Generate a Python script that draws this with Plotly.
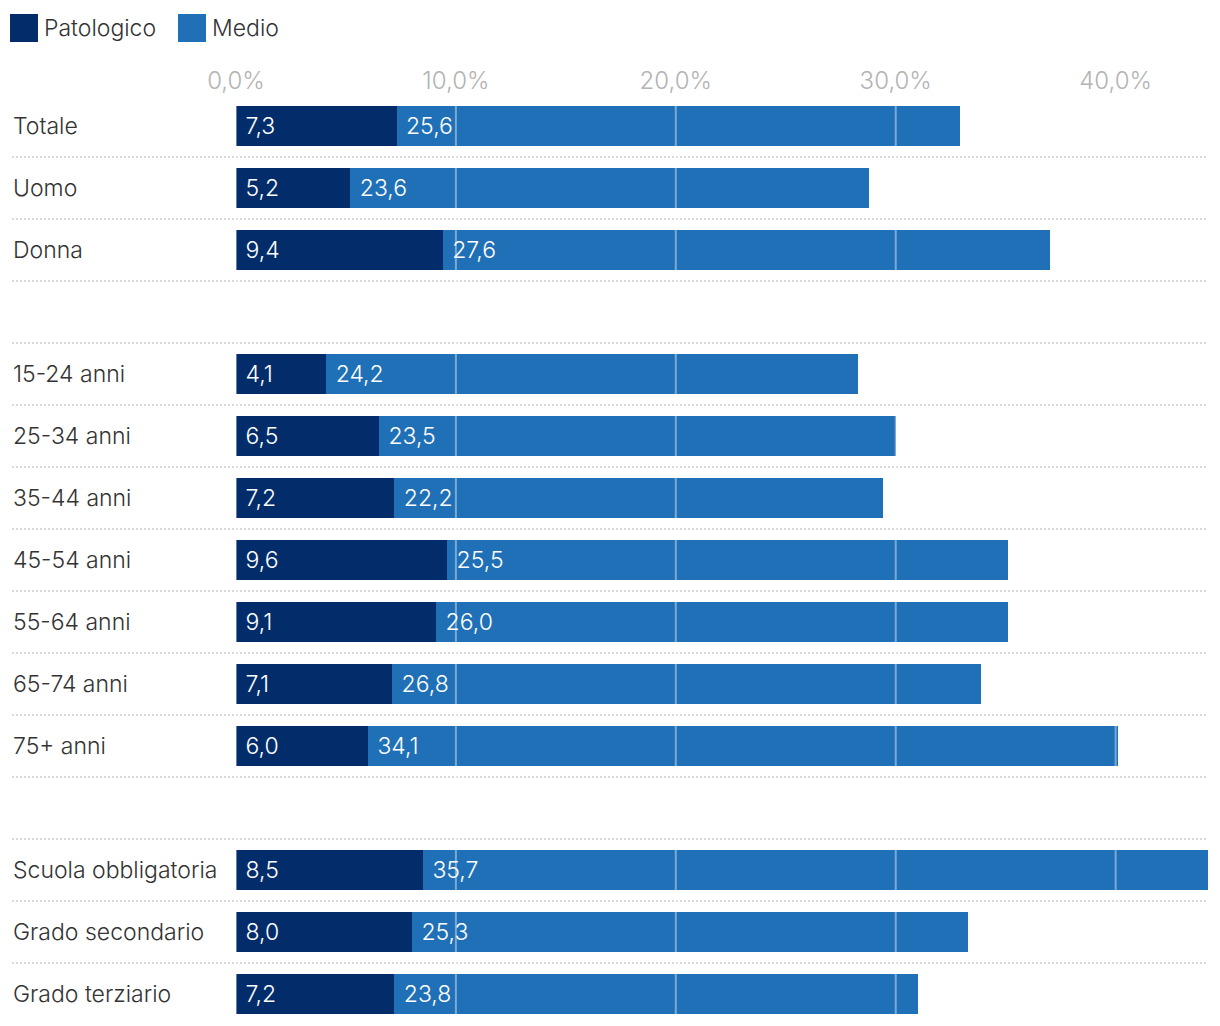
import plotly.graph_objects as go

categories = ["Totale", "Uomo", "Donna", " ",
              "15-24 anni", "25-34 anni", "35-44 anni", "45-54 anni",
              "55-64 anni", "65-74 anni", "75+ anni", "  ",
              "Scuola obbligatoria", "Grado secondario", "Grado terziario"]
patologico = [7.3, 5.2, 9.4, None, 4.1, 6.5, 7.2, 9.6, 9.1, 7.1, 6.0, None, 8.5, 8.0, 7.2]
medio = [25.6, 23.6, 27.6, None, 24.2, 23.5, 22.2, 25.5, 26.0, 26.8, 34.1, None, 35.7, 25.3, 23.8]
tick_vals = [0, 10, 20, 30, 40]
tick_text = ["0,0%", "10,0%", "20,0%", "30,0%", "40,0%"]
series_names = ["Patologico", "Medio"]
colors = ["#022d6a", "#2070b8"]

W, H = 1220, 1026
ML, MR, MT, MB = 236, 12, 95, 1
PW, PH = W - ML - MR, H - MT - MB
FONT = "Inter"
FS = 23


def px_x(px):
    return (px - ML) / PW


def px_y(py):
    return (H - MB - py) / PH


def fmt(v):
    return None if v is None else "\u00a0" + f"{v:.1f}".replace(".", ",")


fig = go.Figure()
for name, vals, col in zip(series_names, [patologico, medio], colors):
    fig.add_trace(go.Bar(
        y=categories, x=vals, name=name, orientation="h",
        marker=dict(color=col, line=dict(width=0)),
        text=[fmt(v) for v in vals], textposition="inside",
        insidetextanchor="start", constraintext="none",
        textfont=dict(family=FONT, size=FS, color="white", weight=300),
        showlegend=False, hoverinfo="skip",
    ))

shapes = []
# dotted row separators
for i in range(len(categories) - 1):
    shapes.append(dict(type="line", xref="paper", yref="y",
                       x0=px_x(12), x1=1, y0=i + 0.5, y1=i + 0.5,
                       line=dict(color="#d9d9d9", width=2, dash="2px,2px"),
                       layer="below"))
# gridlines over bars
for v in tick_vals:
    shapes.append(dict(type="line", xref="x", yref="paper", x0=v, x1=v,
                       y0=0, y1=1,
                       line=dict(color="rgba(255,255,255,0.4)", width=2),
                       layer="above"))

annotations = []
for c in categories:
    if c.strip():
        annotations.append(dict(xref="paper", yref="y", x=px_x(12), y=c,
                                text=c, showarrow=False, xanchor="left",
                                yanchor="middle", xshift=-1,
                                font=dict(family=FONT, size=FS, color="#333333", weight=300)))

# legend
leg_x = [10, 178]
for name, col, lx in zip(series_names, colors, leg_x):
    shapes.append(dict(type="rect", xref="paper", yref="paper",
                       x0=px_x(lx), x1=px_x(lx + 28), y0=px_y(42), y1=px_y(14),
                       fillcolor=col, line=dict(width=0)))
    annotations.append(dict(xref="paper", yref="paper", x=px_x(lx + 32), y=px_y(28),
                            text=name, showarrow=False, xanchor="left", yanchor="middle",
                            font=dict(family=FONT, size=FS, color="#333333", weight=300)))

fig.update_layout(
    barmode="stack", bargap=0.355,
    width=W, height=H,
    margin=dict(l=ML, r=MR, t=MT, b=MB, pad=0),
    plot_bgcolor="white", paper_bgcolor="white",
    font=dict(family=FONT, size=FS, color="#333333"),
    shapes=shapes, annotations=annotations,
    xaxis=dict(range=[0, 44.2], side="top", tickvals=tick_vals, ticktext=tick_text,
               showgrid=False, zeroline=False, showline=False, ticks="",
               tickfont=dict(family=FONT, size=24, color="#b3b3b3", weight=300),
               fixedrange=True),
    yaxis=dict(categoryorder="array", categoryarray=categories, autorange="reversed",
               showticklabels=False, showgrid=False, zeroline=False, showline=False,
               ticks="", fixedrange=True),
)

fig.write_html("out.html", config={"displayModeBar": False},
               post_script="document.body.style.margin='0px';")
